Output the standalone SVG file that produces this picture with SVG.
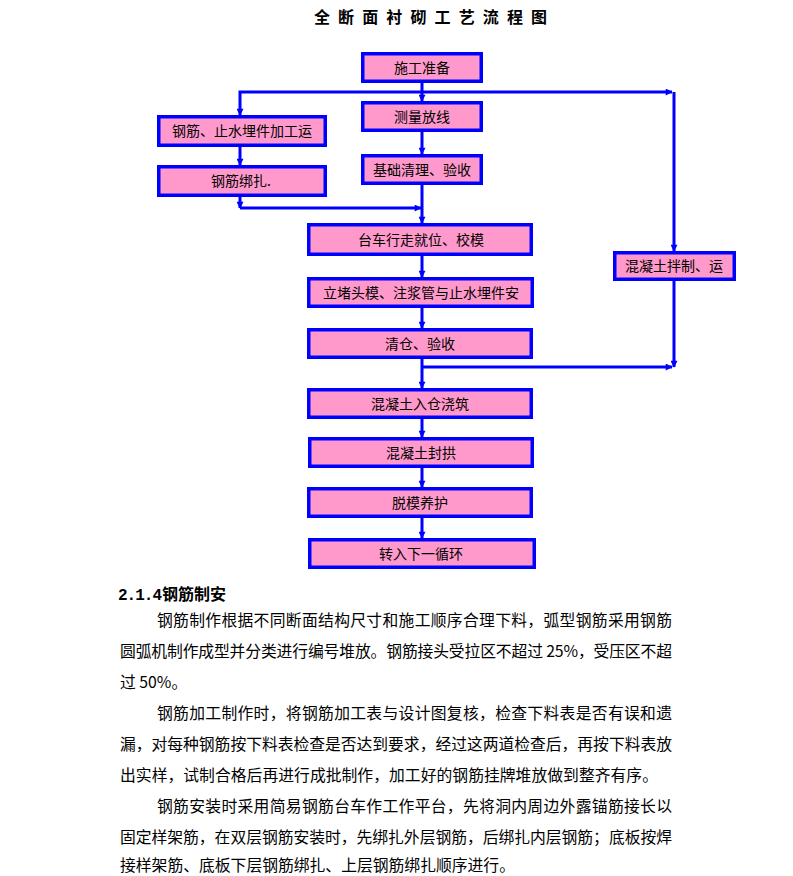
<svg xmlns="http://www.w3.org/2000/svg" width="793" height="876" viewBox="0 0 793 876">
<style>
.box{fill:#FF99CC;stroke:#0000FF;stroke-width:3.5}
.lbl{font-family:"Noto Sans CJK SC","Noto Sans",sans-serif;font-size:14px;fill:#000;text-anchor:middle}
.ln{fill:none;stroke:#0000FF;stroke-width:3}
.arr{marker-end:url(#ah)}
.body{font-family:"Noto Sans CJK SC","Noto Sans",sans-serif;font-size:15.8px;fill:#000}
</style>
<defs>
<marker id="ah" viewBox="0 0 10 10" refX="9" refY="5" markerWidth="9" markerHeight="7" markerUnits="userSpaceOnUse" orient="auto"><path d="M0,0 L10,5 L0,10 z" fill="#0000FF"/></marker>
</defs>
<rect width="793" height="876" fill="#fff"/>
<text x="430.5" y="23" font-family="'Noto Sans CJK SC',sans-serif" font-size="16" font-weight="bold" text-anchor="middle" textLength="233" lengthAdjust="spacing">全 断 面 衬 砌 工 艺 流 程 图</text>

<g id="connectors">
<path class="ln arr" d="M422,83 V101"/>
<path class="ln arr" d="M422,92 H240 V115"/>
<path class="ln arr" d="M422,92 H672"/>
<path class="ln arr" d="M674,92 V251"/>
<path class="ln arr" d="M422,132 V154"/>
<path class="ln arr" d="M240,147 V165"/>
<path class="ln arr" d="M422,185 V223"/>
<path class="ln arr" d="M240,196 V208"/>
<path class="ln arr" d="M240,208 H421"/>
<path class="ln arr" d="M422,256 V277"/>
<path class="ln arr" d="M422,308 V328"/>
<path class="ln arr" d="M422,359 V388"/>
<path class="ln arr" d="M674,281 V367"/>
<path class="ln arr" d="M422,367 H672"/>
<path class="ln arr" d="M422,419 V437"/>
<path class="ln arr" d="M422,468 V487"/>
<path class="ln arr" d="M422,518 V538"/>
</g>

<g id="n1"><rect class="box" x="362.75" y="53.75" width="118.5" height="27.5"/><text class="lbl" x="422" y="73">施工准备</text></g>
<g id="n2"><rect class="box" x="362.75" y="102.75" width="118.5" height="27.5"/><text class="lbl" x="422" y="122">测量放线</text></g>
<g id="n3"><rect class="box" x="158.75" y="116.75" width="166.5" height="28.5"/><text class="lbl" x="242" y="136">钢筋、止水埋件加工运</text></g>
<g id="n4"><rect class="box" x="158.75" y="166.75" width="166.5" height="28.5"/><text class="lbl" x="241" y="186">钢筋绑扎.</text></g>
<g id="n5"><rect class="box" x="362.75" y="155.75" width="118.5" height="27.5"/><text class="lbl" x="422" y="175">基础清理、验收</text></g>
<g id="n6"><rect class="box" x="308.75" y="224.75" width="222.5" height="29.5"/><text class="lbl" x="421" y="245">台车行走就位、校模</text></g>
<g id="n7"><rect class="box" x="308.75" y="278.75" width="223.5" height="27.5"/><text class="lbl" x="421" y="298">立堵头模、注浆管与止水埋件安</text></g>
<g id="n8"><rect class="box" x="308.75" y="329.75" width="222.5" height="27.5"/><text class="lbl" x="420" y="349">清仓、验收</text></g>
<g id="n9"><rect class="box" x="308.75" y="389.75" width="222.5" height="27.5"/><text class="lbl" x="420" y="409">混凝土入仓浇筑</text></g>
<g id="n10"><rect class="box" x="309.75" y="438.75" width="222.5" height="27.5"/><text class="lbl" x="421" y="458">混凝土封拱</text></g>
<g id="n11"><rect class="box" x="308.75" y="488.75" width="222.5" height="27.5"/><text class="lbl" x="420" y="508">脱模养护</text></g>
<g id="n12"><rect class="box" x="309.75" y="539.75" width="224.5" height="27.5"/><text class="lbl" x="421" y="559">转入下一循环</text></g>
<g id="n13"><rect class="box" x="614.75" y="252.75" width="119.5" height="26.5"/><text class="lbl" x="674" y="271">混凝土拌制、运</text></g>

<text x="118" y="600" font-family="'Liberation Mono',monospace" font-size="16" font-weight="bold" textLength="44" lengthAdjust="spacing">2.1.4</text>
<text x="162" y="600" font-family="'Noto Sans CJK SC',sans-serif" font-size="16" font-weight="bold">钢筋制安</text>

<text class="body" x="157" y="626" textLength="515" lengthAdjust="spacing">钢筋制作根据不同断面结构尺寸和施工顺序合理下料，弧型钢筋采用钢筋</text>
<text class="body" x="120" y="657" textLength="552" lengthAdjust="spacing">圆弧机制作成型并分类进行编号堆放。钢筋接头受拉区不超过 25%，受压区不超</text>
<text class="body" x="120" y="688">过 50%。</text>
<text class="body" x="157" y="719" textLength="515" lengthAdjust="spacing">钢筋加工制作时，将钢筋加工表与设计图复核，检查下料表是否有误和遗</text>
<text class="body" x="120" y="750" textLength="552" lengthAdjust="spacing">漏，对每种钢筋按下料表检查是否达到要求，经过这两道检查后，再按下料表放</text>
<text class="body" x="120" y="781" textLength="538" lengthAdjust="spacing">出实样，试制合格后再进行成批制作，加工好的钢筋挂牌堆放做到整齐有序。</text>
<text class="body" x="157" y="812" textLength="515" lengthAdjust="spacing">钢筋安装时采用简易钢筋台车作工作平台，先将洞内周边外露锚筋接长以</text>
<text class="body" x="120" y="843" textLength="552" lengthAdjust="spacing">固定样架筋，在双层钢筋安装时，先绑扎外层钢筋，后绑扎内层钢筋；底板按焊</text>
<text class="body" x="120" y="871">接样架筋、底板下层钢筋绑扎、上层钢筋绑扎顺序进行。</text>
</svg>
